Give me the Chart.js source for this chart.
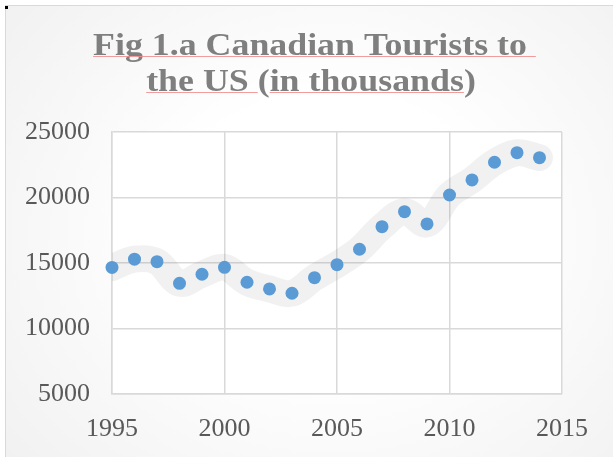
<!DOCTYPE html>
<html>
<head>
<meta charset="utf-8">
<script src="https://cdn.jsdelivr.net/npm/chart.js@4.4.0/dist/chart.umd.min.js"></script>
<style>
html, body { margin: 0; padding: 0; background: #fff; }
#wrap { position: relative; width: 613px; height: 457px; overflow: hidden; }
#frame { position: absolute; left: 5px; top: 5px; width: 650px; height: 500px; border: 1px solid #d9d9d9;
  background: radial-gradient(ellipse at 50% 45%, #ffffff 35%, #efefef 100%); }
#dot { position: absolute; left: 5px; top: 6px; width: 3px; height: 3px; background: #000; }
canvas { position: absolute; left: 0; top: 0; }
</style>
</head>
<body>
<div id="wrap">
  <div id="frame"></div>
  <div id="dot"></div>
  <canvas id="myChart" width="613" height="457"></canvas>
</div>
<script>
// Canadian tourists to the US, thousands
var years = [1995, 1996, 1997, 1998, 1999, 2000, 2001, 2002, 2003, 2004,
             2005, 2006, 2007, 2008, 2009, 2010, 2011, 2012, 2013, 2014];
var tourists = [14660, 15290, 15100, 13450, 14140, 14670, 13530, 13020, 12690, 13880,
                14870, 16050, 17770, 18920, 17980, 20190, 21340, 22690, 23420, 23040];
var titleLines = ["Fig 1.a Canadian Tourists to", "the US (in thousands)"];

var pts = years.map(function (y, i) { return { x: y, y: tourists[i] }; });

var serif = "'Liberation Serif', 'Times New Roman', serif";

var plotBg = {
    id: 'plotBg',
    beforeDraw: function (chart) {
        var a = chart.chartArea, c = chart.ctx;
        c.save();
        c.fillStyle = '#ffffff';
        c.fillRect(a.left, a.top, a.right - a.left, a.bottom - a.top);
        c.restore();
    }
};

// title is drawn a bit wide, like the original
var titleDraw = {
    id: 'titleDraw',
    afterDraw: function (chart) {
        var c = chart.ctx;
        var sx = 1.12;
        c.save();
        c.font = "bold 32px " + serif;
        c.fillStyle = '#7f7f7f';
        c.textAlign = 'left';
        c.textBaseline = 'alphabetic';
        c.strokeStyle = 'rgba(238,140,140,0.85)';
        c.lineWidth = 1;
        function m(s) { return c.measureText(s).width * sx; }
        function txt(s, x, y) {
            c.save(); c.translate(x, y); c.scale(sx, 1); c.fillText(s, 0, 0); c.restore();
        }
        function ul(x0, x1, y) {
            c.beginPath(); c.moveTo(x0, y); c.lineTo(x1, y); c.stroke();
        }
        // line 1
        var w1 = m(titleLines[0]);
        var x1 = 310 - w1 / 2;
        txt(titleLines[0], x1, 54.5);
        ul(x1, x1 + m(titleLines[0] + ' '), 56.5);
        // line 2
        var w2 = m(titleLines[1]);
        var x2 = 311 - w2 / 2;
        txt(titleLines[1], x2, 91);
        ul(x2, x2 + m('the US '), 92.5);
        ul(x2 + m('the US ('), x2 + m('the US (in thousands'), 92.5);
        c.restore();
    }
};

var ctx = document.getElementById("myChart").getContext('2d');
var myChart = new Chart(ctx, {
    type: 'scatter',
    data: {
        datasets: [{
            label: 'Tourists',
            data: pts,
            backgroundColor: '#5b9bd5',
            borderWidth: 0,
            pointRadius: 6.5,
            showLine: false,
            clip: false,
            order: 1
        }, {
            type: 'line',
            label: 'glow',
            data: pts,
            borderColor: 'rgba(0,0,0,0.055)',
            borderWidth: 27,
            borderCapStyle: 'round',
            borderJoinStyle: 'round',
            pointRadius: 0,
            tension: 0.35,
            fill: false,
            clip: { left: 0, top: false, right: false, bottom: false },
            order: 2
        }]
    },
    options: {
        responsive: false,
        animation: false,
        layout: { padding: { top: 132, right: 51, left: 0, bottom: 0 } },
        plugins: { legend: { display: false }, tooltip: { enabled: false } },
        scales: {
            x: {
                type: 'linear',
                min: 1995, max: 2015,
                afterFit: function (s) { s.height = 63; },
                ticks: {
                    stepSize: 5,
                    padding: 20,
                    color: '#595959',
                    font: { family: serif, size: 26 },
                    callback: function (v) { return String(v); }
                },
                grid: { color: '#d9d9d9', lineWidth: 1.5, drawTicks: false },
                border: { color: '#d9d9d9', width: 1.5 }
            },
            y: {
                min: 5000, max: 25000,
                afterFit: function (s) { s.width = 112; },
                ticks: {
                    stepSize: 5000,
                    padding: 22,
                    color: '#595959',
                    font: { family: serif, size: 26 },
                    callback: function (v) { return String(v); }
                },
                grid: { color: '#d9d9d9', lineWidth: 1.5, drawTicks: false },
                border: { color: '#d9d9d9', width: 1.5 }
            }
        }
    },
    plugins: [plotBg, titleDraw]
});
</script>
</body>
</html>
